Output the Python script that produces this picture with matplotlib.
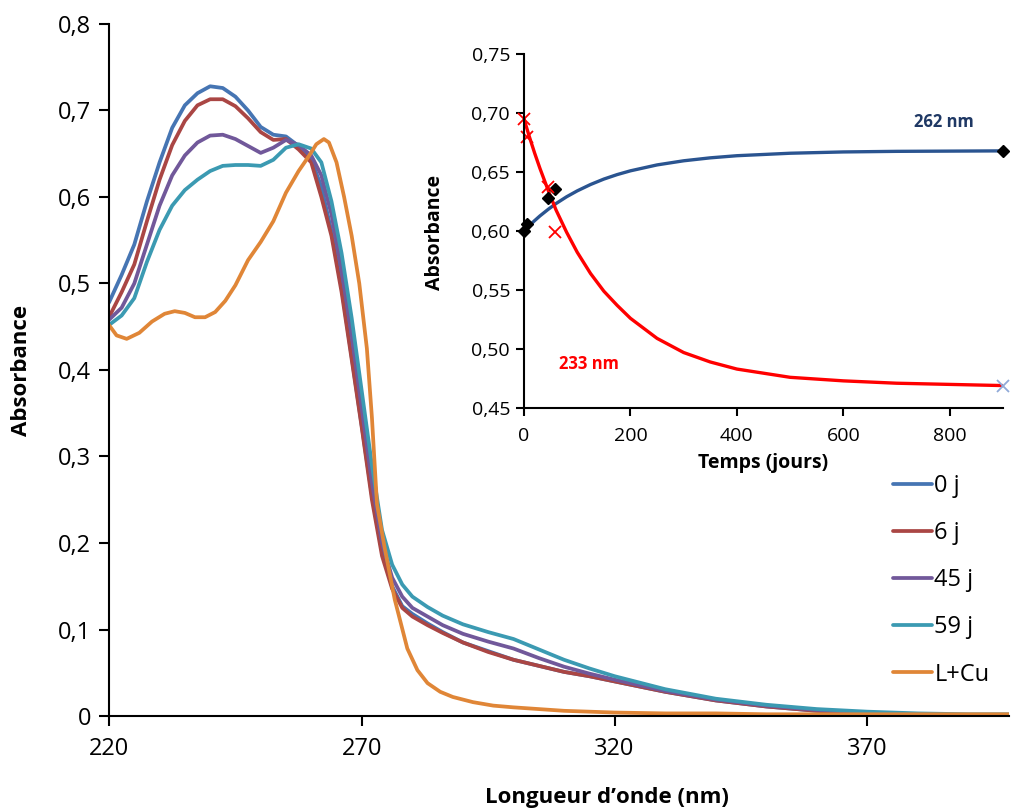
import matplotlib
matplotlib.use("Agg")
import matplotlib.pyplot as plt
from matplotlib.ticker import FuncFormatter, MultipleLocator

plt.rcParams['font.family'] = ['Open Sans', 'DejaVu Sans']

# spectres UV-vis
wl = [220, 222.5, 225, 227.5, 230, 232.5, 235, 237.5, 240, 242.5, 245, 247.5,
      250, 252.5, 255, 257.5, 260, 262, 264, 266, 268, 270, 272, 274, 276,
      278, 280, 283, 286, 290, 295, 300, 305, 310, 315, 320, 330, 340, 350,
      360, 370, 380, 390, 398]
abs_0j = [0.478, 0.510, 0.545, 0.595, 0.640, 0.680, 0.706, 0.720, 0.728, 0.726,
          0.716, 0.700, 0.681, 0.672, 0.670, 0.659, 0.643, 0.612, 0.560, 0.495,
          0.415, 0.335, 0.255, 0.190, 0.150, 0.127, 0.118, 0.107, 0.097, 0.085,
          0.075, 0.065, 0.058, 0.051, 0.046, 0.040, 0.028, 0.018, 0.011, 0.006,
          0.003, 0.002, 0.001, 0.001]
abs_6j = [0.461, 0.490, 0.522, 0.572, 0.620, 0.660, 0.688, 0.706, 0.713, 0.713,
          0.705, 0.691, 0.675, 0.666, 0.667, 0.655, 0.640, 0.600, 0.555, 0.490,
          0.412, 0.333, 0.250, 0.185, 0.147, 0.125, 0.115, 0.105, 0.096, 0.085,
          0.074, 0.065, 0.058, 0.051, 0.046, 0.040, 0.028, 0.018, 0.011, 0.006,
          0.003, 0.002, 0.001, 0.001]
abs_45j = [0.458, 0.472, 0.500, 0.545, 0.590, 0.625, 0.648, 0.663, 0.671, 0.672,
           0.667, 0.659, 0.651, 0.657, 0.666, 0.660, 0.648, 0.625, 0.580, 0.515,
           0.440, 0.355, 0.270, 0.200, 0.160, 0.138, 0.125, 0.115, 0.105, 0.095,
           0.086, 0.078, 0.067, 0.057, 0.049, 0.042, 0.029, 0.019, 0.012, 0.007,
           0.004, 0.002, 0.001, 0.001]
abs_59j = [0.452, 0.463, 0.483, 0.525, 0.562, 0.590, 0.608, 0.620, 0.630, 0.636,
           0.637, 0.637, 0.636, 0.643, 0.657, 0.661, 0.656, 0.640, 0.595, 0.535,
           0.460, 0.375, 0.290, 0.215, 0.175, 0.152, 0.138, 0.126, 0.116, 0.106,
           0.097, 0.089, 0.077, 0.065, 0.055, 0.046, 0.031, 0.020, 0.013, 0.008,
           0.005, 0.003, 0.002, 0.002]

wl_cu = [220, 221.5, 223.5, 226, 228.5, 231, 233, 235, 237, 239, 241, 243, 245,
         247.5, 250, 252.5, 255, 257.5, 259.5, 261, 262.5, 263.5, 265, 266.5,
         268, 269.5, 271, 272, 273, 274.5, 276.5, 279, 281, 283, 285.5, 288,
         292, 296, 300, 305, 310, 320, 330, 340, 350, 360, 370, 380, 390, 398]
abs_cu = [0.452, 0.440, 0.436, 0.443, 0.456, 0.465, 0.468, 0.466, 0.461, 0.461,
          0.467, 0.480, 0.498, 0.527, 0.548, 0.572, 0.605, 0.630, 0.647, 0.661,
          0.667, 0.663, 0.640, 0.600, 0.555, 0.500, 0.425, 0.345, 0.245, 0.195,
          0.135, 0.078, 0.053, 0.038, 0.028, 0.022, 0.016, 0.012, 0.010, 0.008,
          0.006, 0.004, 0.003, 0.003, 0.002, 0.002, 0.002, 0.002, 0.002, 0.002]

labels = ['0 j', '6 j', '45 j', '59 j', 'L+Cu']
colors = ['#4675b3', '#aa4644', '#71589a', '#3b9ab2', '#e08637']
x_ticks = [220, 270, 320, 370]

# encart : evolution avec le temps
jours = [0, 6, 45, 59, 900]
a262 = [0.600, 0.606, 0.628, 0.636, 0.668]
a233 = [0.695, 0.680, 0.637, 0.599, 0.4685]
# courbes d'ajustement
t_fit = [0, 10, 20, 30, 45, 60, 80, 100, 125, 150, 175, 200, 250, 300, 350,
         400, 500, 600, 700, 800, 900]
fit262 = [0.600, 0.6046, 0.6088, 0.6128, 0.6182, 0.6232, 0.629, 0.634, 0.6394,
          0.644, 0.6478, 0.651, 0.656, 0.6595, 0.662, 0.6638, 0.6659, 0.667,
          0.6675, 0.6677, 0.6679]
fit233 = [0.695, 0.680, 0.666, 0.653, 0.635, 0.618, 0.599, 0.582, 0.564, 0.549,
          0.537, 0.526, 0.509, 0.497, 0.489, 0.483, 0.476, 0.473, 0.471, 0.470,
          0.469]

W, H = 1011, 810
fig = plt.figure(figsize=(W / 100, H / 100), dpi=100)
ax = fig.add_axes([109 / W, 94 / H, 900 / W, 692 / H])

for y, lab, c in zip([abs_0j, abs_6j, abs_45j, abs_59j], labels[:4], colors[:4]):
    ax.plot(wl, y, color=c, lw=2.7, label=lab, solid_capstyle='round',
            solid_joinstyle='round')
ax.plot(wl_cu, abs_cu, color=colors[4], lw=2.7, label=labels[4],
        solid_capstyle='round', solid_joinstyle='round')

ax.set_xlim(220, 398)
ax.set_ylim(0, 0.8)
ax.set_xticks(x_ticks)
ax.yaxis.set_major_locator(MultipleLocator(0.1))
ax.yaxis.set_major_formatter(FuncFormatter(
    lambda v, p: '0' if abs(v) < 1e-9 else f'{v:.1f}'.replace('.', ',')))
for s in ['top', 'right']:
    ax.spines[s].set_visible(False)
for s in ['left', 'bottom']:
    ax.spines[s].set_linewidth(1.5)
ax.tick_params(direction='out', length=7, width=1.5, labelsize=17, pad=6)
ax.tick_params(axis='x', pad=8)

fig.text(22 / W, 1 - 370 / H, 'Absorbance', rotation=90, ha='center', va='center',
         fontsize=16, fontweight='bold')
fig.text(607 / W, 1 - 797 / H, 'Longueur d\u2019onde (nm)', ha='center', va='center',
         fontsize=16, fontweight='bold')

ax.legend(loc='upper left', bbox_to_anchor=(893 / W, 1 - 474 / H),
          bbox_transform=fig.transFigure, frameon=False, fontsize=17,
          handlelength=1.65, handletextpad=0.1, labelspacing=0.98,
          borderpad=0, borderaxespad=0)

# encart
ins = fig.add_axes([524 / W, (H - 408) / H, 479 / W, 354 / H])
ins.set_facecolor('none')
ins.plot(t_fit, fit262, color='#2a5490', lw=2.4, solid_joinstyle='round')
ins.plot(t_fit, fit233, color='#ff0000', lw=2.4, solid_joinstyle='round')
ins.plot(jours, a262, 'D', color='black', ms=6, clip_on=False)
ins.plot(jours[:4], a233[:4], 'x', color='#ff0000', ms=8, mew=1.3, clip_on=False)
ins.plot(jours[4:], a233[4:], 'x', color='#8fa9d8', ms=8, mew=1.3, clip_on=False)
ins.set_xlim(0, 900)
ins.set_ylim(0.45, 0.75)
ins.xaxis.set_major_locator(MultipleLocator(200))
ins.yaxis.set_major_locator(MultipleLocator(0.05))
ins.yaxis.set_major_formatter(FuncFormatter(lambda v, p: f'{v:.2f}'.replace('.', ',')))
for s in ['top', 'right']:
    ins.spines[s].set_visible(False)
for s in ['left', 'bottom']:
    ins.spines[s].set_linewidth(1.5)
ins.tick_params(direction='out', length=6, width=1.5, labelsize=14, pad=4)
ins.tick_params(axis='x', pad=8)
ins.text(789, 0.692, '262 nm', color='#1f3864', fontsize=12, fontweight='bold',
         ha='center', va='center')
ins.text(122, 0.487, '233 nm', color='#ff0000', fontsize=12, fontweight='bold',
         ha='center', va='center')
fig.text(435 / W, 1 - 232 / H, 'Absorbance', rotation=90, ha='center', va='center',
         fontsize=14, fontweight='bold')
fig.text(763 / W, 1 - 463 / H, 'Temps (jours)', ha='center', va='center',
         fontsize=14, fontweight='bold')

fig.savefig('out.png', dpi=100)
